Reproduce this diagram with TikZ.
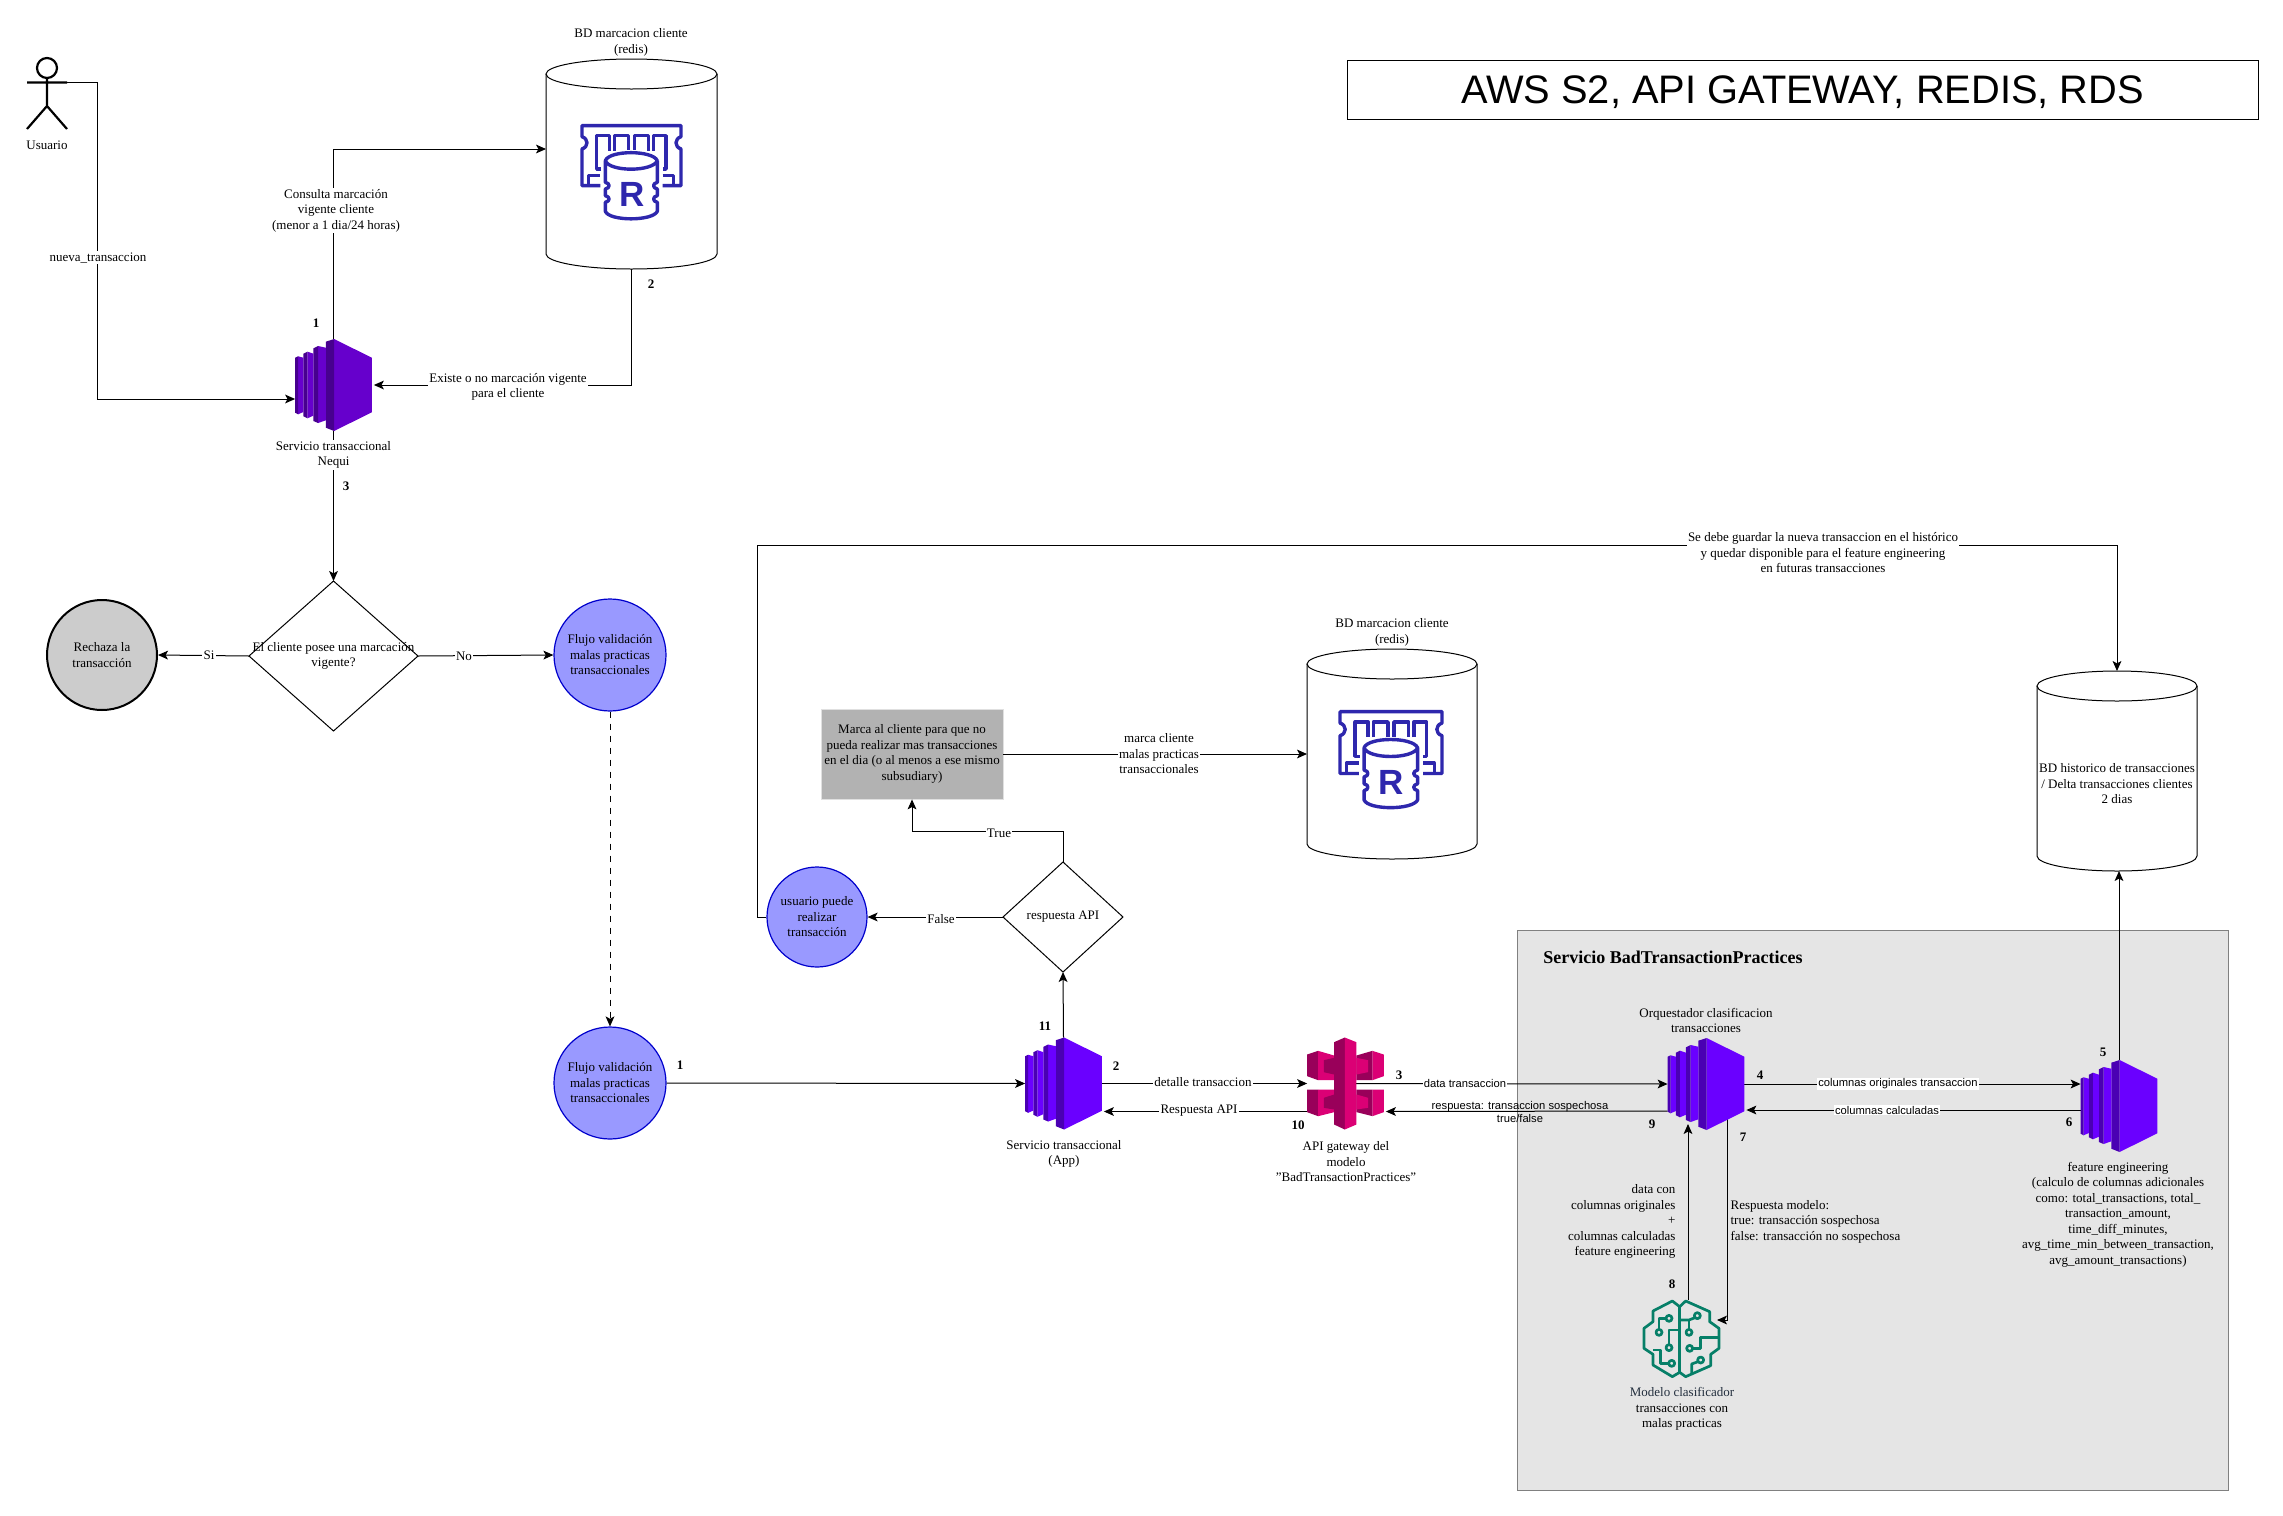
\documentclass[tikz,border=0pt]{standalone}
\usepackage{fontspec}
\setmainfont{Liberation Serif}
\newfontfamily\sansf{Liberation Sans}
\usetikzlibrary{calc,arrows.meta,positioning}
\newcommand\fsz{\fontsize{6.5}{7.75}\selectfont}
\newcommand\fss{\fontsize{5.6}{6.9}\selectfont\sansf}
\definecolor{ecA}{HTML}{6600CC}\definecolor{ecAd}{HTML}{47008F}
\definecolor{ecB}{HTML}{6A00FF}\definecolor{ecBd}{HTML}{4A00B3}
\definecolor{pinkL}{HTML}{DB0075}\definecolor{pinkD}{HTML}{99005A}
\definecolor{redisc}{HTML}{2E27AD}\definecolor{brainc}{HTML}{067F68}
\definecolor{flow}{HTML}{9999FF}\definecolor{slate}{HTML}{232F3E}
\tikzset{
 lbl/.style={font=\fsz,align=center,inner sep=0.6pt,text=black,yshift=-0.4pt},
 wlbl/.style={lbl,fill=white},
 slbl/.style={font=\fss,align=center,inner sep=0.6pt},
 wslbl/.style={slbl,fill=white},
 numl/.style={font=\fsz\bfseries,inner sep=0pt},
 edge/.style={draw=black,line width=0.5pt,-{Stealth[length=5pt,width=4.4pt,inset=1.2pt]}},
 plain/.style={draw=black,line width=0.5pt},
 iconec/.style={inner sep=0pt,outer sep=0pt,minimum width=38.4pt,minimum height=46pt},
 iconapi/.style={inner sep=0pt,outer sep=0pt,minimum width=38.4pt,minimum height=46pt},
 iconbrain/.style={inner sep=0pt,outer sep=0pt,minimum width=39.5pt,minimum height=38.5pt},
 cylnode/.style={inner sep=0pt,outer sep=0pt,font=\fsz,align=center},
 flowc/.style={circle,draw=blue!80!black,fill=flow,line width=0.6pt,minimum size=#1,inner sep=0pt,font=\fsz,align=center},
 trace/.style={draw=brainc,line width=1.35pt,line join=round},
 rtrace/.style={draw=redisc,line width=1.7pt,line join=round},
}
\newcommand\ecicon[3]{%
 \begin{scope}[shift={(#1.north west)}]
 \fill[#2] (39,0)--(76.7,18.7)--(76.7,73.3)--(39,92)--cycle;
 \fill[#3] (30.7,2.7)--(39,0)--(39,92)--(30.7,88.7)--cycle;
 \fill[#2] (23,7)--(30.7,8.7)--(30.7,81.3)--(23,84)--cycle;
 \fill[#3] (18.3,9.3)--(23,7)--(23,84)--(18.3,82)--cycle;
 \fill[#2] (12.3,12.7)--(18.3,14.7)--(18.3,76.7)--(12.3,79.3)--cycle;
 \fill[#3] (8.3,14.7)--(12.3,12.7)--(12.3,79.3)--(8.3,77.3)--cycle;
 \fill[#2] (3,17.3)--(8.3,18.7)--(8.3,73)--(3,75.3)--cycle;
 \fill[#3] (0,18.7)--(3,17.3)--(3,75.3)--(0,73.7)--cycle;
 \end{scope}}
\newcommand\apiicon[1]{%
 \begin{scope}[shift={(#1.north west)},xscale=0.3333,yscale=0.3333,shift={(-22,-24)}]
 % upper left wing
 \fill[pinkD] (22,75)--(55,64)--(55,152)--(22,140)--cycle;
 \fill[pinkL] (55,64)--(103,78)--(103,152)--(55,152)--cycle;
 \fill[pinkD] (72,92)--(103,85)--(103,135)--(72,128)--cycle;
 % upper right wing
 \fill[pinkL] (252,75)--(218,64)--(218,152)--(252,140)--cycle;
 \fill[pinkD] (218,64)--(170,78)--(170,152)--(218,152)--cycle;
 \fill[pinkL] (205,92)--(170,85)--(170,135)--(205,128)--cycle;
 % lower left wing
 \fill[pinkD] (22,180)--(55,180)--(55,260)--(22,248)--cycle;
 \fill[pinkL] (55,180)--(103,180)--(103,248)--(55,260)--cycle;
 \fill[pinkD] (72,205)--(103,195)--(103,240)--(72,235)--cycle;
 % lower right wing
 \fill[pinkL] (252,180)--(218,180)--(218,260)--(252,248)--cycle;
 \fill[pinkD] (218,180)--(170,180)--(170,248)--(218,260)--cycle;
 \fill[pinkL] (205,205)--(170,195)--(170,240)--(205,235)--cycle;
 % column
 \fill[pinkD] (103,38)--(135,24)--(135,300)--(103,285)--cycle;
 \fill[pinkL] (170,38)--(135,24)--(135,300)--(170,285)--cycle;
 \end{scope}}
\newcommand\redisicon[2]{%
 \begin{scope}[shift={(#1.north west)},xscale=0.3333*#2,yscale=0.3333*#2,shift={(-125,-103)}]
 \draw[rtrace] (183,285)--(128,285)--(128,175) .. controls (148,168) and (148,145) .. (128,138)--(128,105)--(425,105)--(425,138) .. controls (405,145) and (405,168) .. (425,175)--(425,285)--(370,285);
 \draw[rtrace] (185,235)--(172,235)--(172,135)--(210,135)--(210,180);
 \draw[rtrace] (225,180)--(225,135)--(268,135)--(268,178);
 \draw[rtrace] (285,178)--(285,135)--(328,135)--(328,180);
 \draw[rtrace] (343,180)--(343,135)--(380,135)--(380,235)--(370,235);
 \draw[rtrace] (147,285)--(147,255)--(183,255);
 \draw[rtrace] (370,255)--(403,255)--(403,285);
 \fill[white] (198,210)--(198,362) .. controls (210,392) and (340,392) .. (354,362)--(354,210) .. controls (340,178) and (210,178) .. (198,210)--cycle;
 \draw[rtrace] (198,210) .. controls (210,178) and (340,178) .. (354,210) .. controls (340,244) and (210,244) .. (198,210)--(198,275) .. controls (213,278) and (213,292) .. (198,295)--(198,315) .. controls (213,318) and (213,332) .. (198,335)--(198,362) .. controls (210,392) and (340,392) .. (354,362)--(354,335) .. controls (339,332) and (339,318) .. (354,315)--(354,295) .. controls (339,292) and (339,278) .. (354,275)--(354,210);
 \node[inner sep=0pt,text=redisc,font=\fontsize{17.5}{17.5}\selectfont\sansf\bfseries] (#1r) at (277,312) {R};
 \end{scope}}
\newcommand\brainicon[1]{%
 \begin{scope}[shift={(#1.north west)},xscale=0.3333,yscale=0.3333,shift={(-12,-15)}]
 \draw[trace] (122,35)--(100,18)--(42,48)--(42,80)--(15,100)--(15,160)--(42,178)--(42,210)--(100,245)--(122,232)--(140,245)--(215,212)--(215,178)--(240,160)--(240,100)--(212,80)--(212,50)--(140,18)--cycle;
 \draw[trace] (122,35)--(122,232);
 \draw[trace] (81,70)--(60,70)--(60,103);
 \draw[trace] (90,70) circle[radius=9];
 \draw[trace] (60,112) circle[radius=9];
 \draw[trace] (122,105)--(90,105)--(90,149);
 \draw[trace] (90,158) circle[radius=9];
 \draw[trace] (42,165)--(65,165)--(65,205)--(89,205);
 \draw[trace] (98,205) circle[radius=9];
 \draw[trace] (168,68)--(150,75)--(122,75);
 \draw[trace] (150,75)--(150,103);
 \draw[trace] (175,62) circle[radius=9];
 \draw[trace] (150,112) circle[radius=9];
 \draw[trace] (152,160) circle[radius=9];
 \draw[trace] (161,160)--(185,160)--(185,128)--(240,128);
 \draw[trace] (185,195) circle[radius=9];
 \draw[trace] (177,200)--(158,207)--(158,238);
 \end{scope}}
\newcommand\cylpath[3]{%
 \draw[plain] ($(#1.north west)+(0,#3)$)--($(#1.south west)+(0,-#3)$) arc[start angle=180,end angle=0,x radius=#2,y radius=#3]--($(#1.north east)+(0,#3)$);
 \draw[plain] ($(#1.north)+(0,#3)$) ellipse[x radius=#2,y radius=#3];}
\newcommand\diam[1]{\draw[plain] (#1.north)--(#1.east)--(#1.south)--(#1.west)--cycle;}
\begin{document}
\begin{tikzpicture}[x=0.5pt,y=-0.5pt]
\fill[white] (0,0) rectangle (2283,1516);
\useasboundingbox (0,0) rectangle (2283,1516);
% panel
\node[draw=black!50,fill=black!10,line width=0.5pt,minimum width=355.5pt,minimum height=280pt,inner sep=0pt] (panel) at (1872.5,1210) {};
\node[anchor=west,inner sep=0pt,font=\fontsize{9}{11}\selectfont\bfseries] (ptitle) at (1543,957) {Servicio BadTransactionPractices};
% title
\node[draw=black,line width=0.5pt,minimum width=455.5pt,minimum height=29.5pt,inner sep=0pt] (titlebox) at (1802.5,89.5) {};
\node[inner sep=0pt,font=\fontsize{19.9}{24}\selectfont\sansf] (title) at (1802.5,92.5) {AWS S2, API GATEWAY, REDIS, RDS};
% anchors
\node[inner sep=0pt,outer sep=0pt,minimum width=20pt,minimum height=35pt] (actor) at (47,94) {};
\node[iconec] (ec2a) at (333.5,385) {};
\node[iconec] (ec2b) at (1063.5,1083.5) {};
\node[iconec] (ec2c) at (1706,1084) {};
\node[iconec] (ec2d) at (2119,1106) {};
\node[iconapi] (api) at (1345.5,1083.5) {};
\node[iconbrain] (brain) at (1682.5,1338.5) {};
\node[cylnode,minimum width=85.5pt,minimum height=105pt] (cyl1) at (631.5,164) {};
\node[cylnode,minimum width=85pt,minimum height=105pt] (cyl2) at (1392,754) {};
\node[cylnode,minimum width=80pt,minimum height=100pt] (cyl3) at (2117,771) {};
\node[inner sep=0pt,outer sep=0pt,minimum width=51pt,minimum height=48pt] (redisa) at (632,173) {};
\node[inner sep=0pt,outer sep=0pt,minimum width=53pt,minimum height=49pt] (redisb) at (1392,760) {};
\node[inner sep=0pt,outer sep=0pt,minimum width=84.5pt,minimum height=75pt,font=\fsz,align=center] (dec1) at (333.5,656) {El cliente posee una marcación\\vigente?};
\node[inner sep=0pt,outer sep=0pt,minimum width=60pt,minimum height=55pt,font=\fsz,align=center] (dec2) at (1063,917) {respuesta API};
\node[circle,draw=black,fill=black!20,line width=1pt,minimum size=55pt,inner sep=0pt,font=\fsz,align=center] (reject) at (102,655) {Rechaza la\\transacción};
\node[flowc=56pt] (flowa) at (610,655) {Flujo validación\\malas practicas\\transaccionales};
\node[flowc=56pt] (flowb) at (610,1083) {Flujo validación\\malas practicas\\transaccionales};
\node[flowc=50pt] (user) at (817,917) {usuario puede\\realizar\\transacción};
\node[fill=black!30,draw=black!12,line width=0.4pt,minimum width=91pt,minimum height=45pt,inner sep=0pt,font=\fsz,align=center] (mark) at (912,754) {Marca al cliente para que no\\pueda realizar mas transacciones\\en el dia (o al menos a ese mismo\\subsudiary)};
\coordinate (loop) at (757,545);
% connectors
\draw[edge] ($(actor.east)+(0,-12)$) -- ++(30.5,0) |- ($(ec2a.west)+(0,14)$);
\draw[edge] (ec2a.north) |- ($(cyl1.west)+(0,-15)$);
\draw[edge] (cyl1.south) |- ($(ec2a.east)+(2,0)$);
\draw[edge] (ec2a.south) -- (dec1.north);
\draw[edge] (dec1.west) -- (reject.east);
\draw[edge] (dec1.east) -- (flowa.west);
\draw[edge,dashed] (flowa.south) -- (flowb.north);
\draw[edge] (flowb.east) -- (ec2b.west);
\draw[edge] (ec2b.east) -- (api.west);
\draw[edge] ($(api.west)+(0,28)$) -- ($(ec2b.east)+(2,28)$);
\draw[edge] (api.center) -- (ec2c.west);
\draw[edge] ($(ec2c.west)+(0,27)$) -- ($(api.east)+(2,28)$);
\draw[edge] (ec2c.east) -- ($(ec2d.west)+(0,-22)$);
\draw[edge] ($(ec2d.west)+(0,4)$) -- ($(ec2c.east)+(2,26)$);
\draw[edge] (ec2d.north) -- (ec2d.north |- cyl3.south);
\draw[edge] ($(brain.north)+(5.5,0)$) -- ($(ec2c.south)+(-18,-6)$);
\draw[edge] ($(ec2c.south)+(21.7,-12)$) |- ($(brain.east)+(-5,-18.5)$);
\draw[edge] (ec2b.north) -- (dec2.south);
\draw[edge] (dec2.west) -- (user.east);
\draw[edge] (dec2.north) |- ($(mark.south)+(0,32)$) -- (mark.south);
\draw[edge] (mark.east) -- (cyl2.west);
\draw[edge] (user.west) -| (loop) -| (cyl3.north);
% shapes
\diam{dec1}\diam{dec2}
\cylpath{cyl1}{85.5}{15}\cylpath{cyl2}{85}{15}\cylpath{cyl3}{80}{15}
\draw[draw=black,line width=1.1pt] (47,68) circle[radius=10];
\draw[draw=black,line width=1.1pt] (27,82.5)--(67,82.5) (47,78)--(47,106) (27,129)--(47,106)--(67,129);
\ecicon{ec2a}{ecA}{ecAd}
\ecicon{ec2b}{ecB}{ecBd}
\ecicon{ec2c}{ecB}{ecBd}
\ecicon{ec2d}{ecB}{ecBd}
\apiicon{api}
\brainicon{brain}
\redisicon{redisa}{1}
\redisicon{redisb}{1.03}
% labels
\node[lbl] (tcyl3) at (2117,783) {BD historico de transacciones\\/ Delta transacciones clientes\\2 dias};
\node[lbl] (tactor) at (47,144) {Usuario};
\node[wlbl] (tnueva) at (98,257) {nueva\_transaccion};
\node[wlbl] (tcons) at (336,210) {Consulta marcación\\vigente cliente\\(menor a 1 dia/24 horas)};
\node[lbl] (tbd1) at (631,41.5) {BD marcacion cliente\\(redis)};
\node[wlbl] (texis) at (508,386) {Existe o no marcación vigente\\para el cliente};
\node[wlbl] (tsrv1) at (333.5,454) {Servicio transaccional\\Nequi};
\node[wlbl] (tsi) at (209,654) {Si};
\node[wlbl] (tno) at (464,655) {No};
\node[lbl] (tsrv2) at (1064,1153) {Servicio transaccional\\(App)};
\node[lbl] (tapi) at (1346,1161) {API gateway del\\modelo\\"BadTransactionPractices"};
\node[wlbl] (tdet) at (1203,1081) {detalle transaccion};
\node[wlbl] (tresp) at (1199,1110) {Respuesta API};
\node[wslbl] (tdata) at (1465,1083) {data transaccion};
\node[slbl] (trsp) at (1520,1112) {respuesta: transaccion sospechosa\\true/false};
\node[wslbl] (tcolo) at (1898,1084) {columnas originales transaccion};
\node[wslbl] (tcolc) at (1887,1110) {columnas calculadas};
\node[lbl] (torq) at (1706,1019.5) {Orquestador clasificacion\\transacciones};
\node[lbl] (tfeat) at (2118,1214) {feature engineering\\(calculo de columnas adicionales\\como: total\_transactions, total\_\\transaction\_amount,\\time\_diff\_minutes,\\avg\_time\_min\_between\_transaction,\\avg\_amount\_transactions)};
\node[lbl,align=right,anchor=east] (tdcon) at (1677,1221) {data con\\columnas originales\\+\\columnas calculadas\\feature engineering};
\node[lbl,align=left,anchor=west] (tmod) at (1729,1221) {Respuesta modelo:\\true: transacción sospechosa\\false: transacción no sospechosa};
\node[lbl] (tclas) at (1682,1408) {\textcolor{slate}{Modelo clasificador}\\transacciones con\\malas practicas};
\node[wlbl] (tguard) at (1823,552) {Se debe guardar la nueva transaccion en el histórico\\y quedar disponible para el feature engineering\\en futuras transacciones};
\node[lbl] (tbd2) at (1392,631.5) {BD marcacion cliente\\(redis)};
\node[wlbl] (tmarc) at (1159,753) {marca cliente\\malas practicas\\transaccionales};
\node[wlbl] (ttrue) at (999,832) {True};
\node[wlbl] (tfalse) at (941,918) {False};
% step numbers
\node[numl] (n1a) at (316,323) {1};
\node[numl] (n2a) at (651,284) {2};
\node[numl] (n3a) at (346,486) {3};
\node[numl] (n1b) at (680,1065) {1};
\node[numl] (n11) at (1045,1026) {11};
\node[numl] (n2b) at (1116,1066) {2};
\node[numl] (n3b) at (1399,1075) {3};
\node[numl] (n10) at (1298,1125) {10};
\node[numl] (n4) at (1760,1075) {4};
\node[numl] (n5) at (2103,1052) {5};
\node[numl] (n6) at (2069,1122) {6};
\node[numl] (n7) at (1743,1137) {7};
\node[numl] (n8) at (1672,1284) {8};
\node[numl] (n9) at (1652,1124) {9};
\end{tikzpicture}
\end{document}
